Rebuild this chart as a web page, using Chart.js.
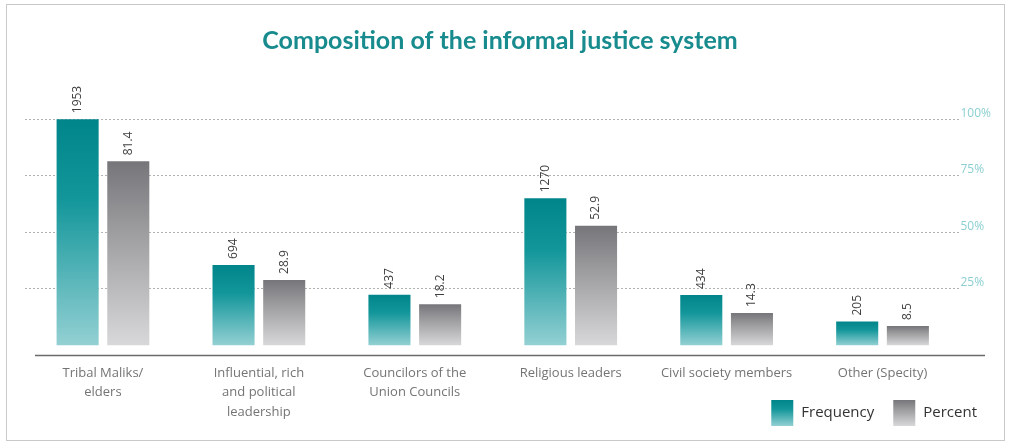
<!DOCTYPE html>
<html>
<head>
<meta charset="utf-8">
<script src="https://cdn.jsdelivr.net/npm/chart.js@4.4.1/dist/chart.umd.min.js"></script>
<style>
  html, body { margin: 0; padding: 0; background: #fff; }
  #wrap { position: relative; width: 1011px; height: 444px; }
  #frame { position: absolute; left: 6px; top: 4px; width: 997px; height: 435px; border: 1px solid #c9c9c9; pointer-events: none; }
</style>
</head>
<body>
<div id="wrap">
  <canvas id="chart" width="1011" height="444"></canvas>
  <div id="frame"></div>
</div>
<script>
const categories = [
  ['Tribal Maliks/', 'elders'],
  ['Influential, rich', 'and political', 'leadership'],
  ['Councilors of the', 'Union Councils'],
  'Religious leaders',
  'Civil society members',
  'Other (Specity)'
];
const frequency = [1953, 694, 437, 1270, 434, 205];
const percent = [81.4, 28.9, 18.2, 52.9, 14.3, 8.5];
const percentTicks = [25, 50, 75, 100];
const percentTickLabels = ['25%', '50%', '75%', '100%'];

// percent axis runs a little below zero so the axis line sits under the bars
const pctMin = -4.5;
const pctMax = 120;
// the largest frequency is drawn level with the 100% line
const freqPerPct = frequency[0] / 100;

const tealStops = ['#00858a', '#12969a', '#93d0d3'];
const greyStops = ['#76767a', '#9a9a9d', '#d8d8da'];

function barGradient(stops) {
  return (c) => {
    const chart = c.chart;
    if (!chart.chartArea || c.type !== 'data') return stops[0];
    const scale = chart.scales[c.dataset.yAxisID];
    const top = scale.getPixelForValue(c.parsed.y);
    const base = scale.getPixelForValue(0);
    const g = chart.ctx.createLinearGradient(0, top, 0, base);
    g.addColorStop(0, stops[0]);
    g.addColorStop(0.35, stops[1]);
    g.addColorStop(1, stops[2]);
    return g;
  };
}

// rotated value text above each bar
const valueLabels = {
  id: 'valueLabels',
  afterDatasetsDraw(chart) {
    const ctx = chart.ctx;
    ctx.save();
    ctx.font = '12px "Open Sans"';
    ctx.fillStyle = '#3f3f3f';
    ctx.textAlign = 'left';
    ctx.textBaseline = 'middle';
    chart.data.datasets.forEach((ds, i) => {
      chart.getDatasetMeta(i).data.forEach((bar, j) => {
        ctx.save();
        ctx.translate(bar.x, bar.y - 6);
        ctx.rotate(-Math.PI / 2);
        ctx.fillText(ds.format(ds.data[j]), 0, 0);
        ctx.restore();
      });
    });
    ctx.restore();
  }
};

// solid axis line under the plot
const baseLine = {
  id: 'baseLine',
  afterDatasetsDraw(chart) {
    const ctx = chart.ctx;
    const y = chart.chartArea.bottom;
    ctx.save();
    ctx.strokeStyle = '#6a6a6a';
    ctx.lineWidth = 1.5;
    ctx.beginPath();
    ctx.moveTo(35, y);
    ctx.lineTo(985, y);
    ctx.stroke();
    ctx.restore();
  }
};

// legend with gradient swatches, bottom right
const swatchLegend = {
  id: 'swatchLegend',
  afterDraw(chart) {
    const ctx = chart.ctx;
    const sw = 22, sh = 26, gap = 8, itemGap = 19;
    const y = 400;
    ctx.save();
    ctx.font = '15px "Open Sans"';
    ctx.textBaseline = 'middle';
    const items = chart.data.datasets.map(ds => ({ text: ds.label, stops: ds.stops }));
    let total = 0;
    items.forEach((it, k) => {
      it.w = ctx.measureText(it.text).width;
      total += sw + gap + it.w + (k ? itemGap : 0);
    });
    let x = chart.width - 34 - total;
    items.forEach(it => {
      const g = ctx.createLinearGradient(0, y, 0, y + sh);
      g.addColorStop(0, it.stops[0]);
      g.addColorStop(0.35, it.stops[1]);
      g.addColorStop(1, it.stops[2]);
      ctx.fillStyle = g;
      ctx.fillRect(x, y, sw, sh);
      ctx.fillStyle = '#333';
      ctx.fillText(it.text, x + sw + gap, y + sh / 2);
      x += sw + gap + it.w + itemGap;
    });
    ctx.restore();
  }
};

new Chart(document.getElementById('chart'), {
  type: 'bar',
  data: {
    labels: categories,
    datasets: [
      {
        label: 'Frequency',
        data: frequency,
        yAxisID: 'freq',
        stops: tealStops,
        backgroundColor: barGradient(tealStops),
        format: v => String(v),
        categoryPercentage: 0.65,
        barPercentage: 0.83
      },
      {
        label: 'Percent',
        data: percent,
        yAxisID: 'pct',
        stops: greyStops,
        backgroundColor: barGradient(greyStops),
        format: v => v.toFixed(1),
        categoryPercentage: 0.65,
        barPercentage: 0.83
      }
    ]
  },
  options: {
    responsive: false,
    animation: false,
    layout: { padding: { left: 9, right: 20, bottom: 22 } },
    plugins: {
      legend: { display: false },
      tooltip: { enabled: false },
      title: {
        display: true,
        text: 'Composition of the informal justice system',
        color: '#178b8d',
        font: { family: 'Lato', size: 25, weight: 'bold' },
        padding: { top: 26, bottom: 18 }
      }
    },
    scales: {
      x: {
        grid: { display: false },
        border: { display: false },
        ticks: {
          color: '#747474',
          font: { family: 'Open Sans', size: 13, lineHeight: 1.5 },
          padding: 0,
          autoSkip: false,
          maxRotation: 0
        }
      },
      // frequency scale: kept invisible, only reserves the left margin
      freq: {
        position: 'left',
        min: pctMin * freqPerPct,
        max: pctMax * freqPerPct,
        grid: { display: false },
        border: { display: false },
        ticks: { display: false },
        afterFit: axis => { axis.width = 16; }
      },
      pct: {
        position: 'right',
        min: pctMin,
        max: pctMax,
        afterBuildTicks: axis => {
          axis.ticks = percentTicks.map(v => ({ value: v }));
        },
        grid: { color: '#b3b3b3', lineWidth: 1, drawTicks: false },
        border: { display: false, dash: [2, 2] },
        ticks: {
          color: '#8ccfd2',
          font: { family: 'Open Sans', size: 12 },
          padding: 0,
          labelOffset: -6,
          callback: v => percentTickLabels[percentTicks.indexOf(v)]
        }
      }
    }
  },
  plugins: [valueLabels, baseLine, swatchLegend]
});
</script>
</body>
</html>
